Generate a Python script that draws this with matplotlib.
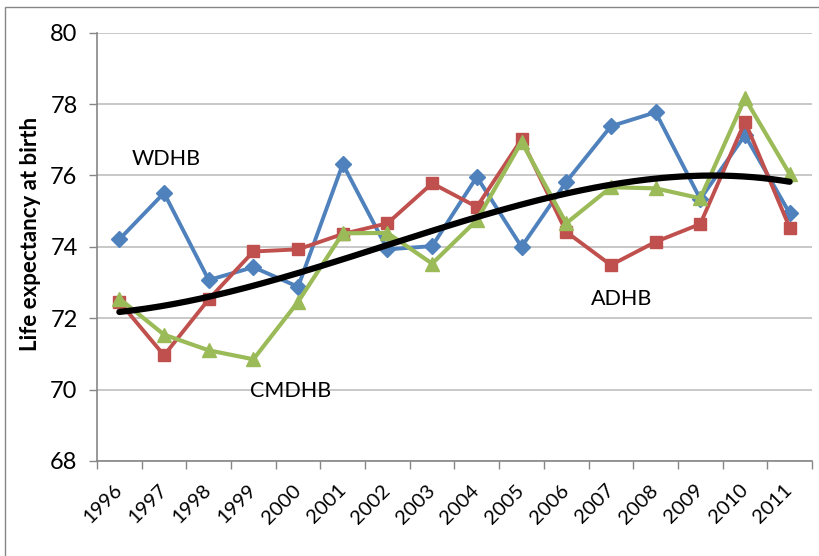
import numpy as np
import matplotlib.pyplot as plt
from matplotlib.patches import Rectangle

# data
years = [str(y) for y in range(1996, 2012)]
wdhb = [74.21, 75.51, 73.07, 73.43, 72.88, 76.32, 73.93, 74.02,
        75.96, 74.00, 75.82, 77.38, 77.77, 75.34, 77.13, 74.94]
adhb = [72.46, 70.96, 72.53, 73.87, 73.93, 74.36, 74.66, 75.78,
        75.12, 77.01, 74.42, 73.49, 74.14, 74.64, 77.51, 74.54]
cmdhb = [72.55, 71.54, 71.10, 70.85, 72.46, 74.38, 74.39, 73.53,
         74.75, 76.94, 74.66, 75.67, 75.64, 75.36, 78.16, 76.04]
# black trend line, read at each year
trend = [72.13, 72.38, 72.65, 72.94, 73.25, 73.62, 74.00, 74.45,
         74.85, 75.20, 75.50, 75.75, 75.90, 76.00, 75.98, 75.81]

plt.rcParams['font.family'] = ['Lato', 'DejaVu Sans']

fig = plt.figure(figsize=(8.2, 5.56), dpi=100)
ax = fig.add_axes([97 / 820, 1 - 461 / 556, 715 / 820, (461 - 32.7) / 556])

x = np.arange(len(years))
ax.plot(x, wdhb, color='#4F81BD', lw=2.8, marker='D', ms=8, zorder=3)
ax.plot(x, adhb, color='#C0504D', lw=2.8, marker='s', ms=8, zorder=3)
ax.plot(x, cmdhb, color='#9BBB59', lw=3.0, marker='^', ms=10, zorder=3)

# smooth polynomial trend drawn through the read values
coef = np.polyfit(x, trend, 3)
xs = np.linspace(0, len(years) - 1, 200)
ax.plot(xs, np.polyval(coef, xs), color='black', lw=4.5,
        solid_capstyle='round', zorder=4)

ax.text(1.05, 76.46, 'WDHB', fontsize=15.5, ha='center', va='center')
ax.text(3.84, 69.95, 'CMDHB', fontsize=15.5, ha='center', va='center')
ax.text(11.25, 72.53, 'ADHB', fontsize=15.5, ha='center', va='center')

ax.set_xlim(-0.5, len(years) - 0.5)
ax.set_ylim(68, 80)
ax.set_yticks(range(68, 81, 2))
ax.yaxis.grid(True, color='#BFBFBF', lw=1.2)
ax.set_axisbelow(True)
ax.set_xticks(x)
ax.set_xticklabels(years, rotation=45, ha='right', va='center',
                   rotation_mode='anchor')
ax.set_xticks(np.arange(-0.5, len(years)), minor=True)
ax.tick_params(axis='x', which='major', length=0, pad=19, labelsize=14.5)
ax.tick_params(axis='x', which='minor', length=6, color='#868686', width=1)
ax.tick_params(axis='y', length=6, color='#868686', width=1, labelsize=17, pad=8)
for s in ['top', 'right']:
    ax.spines[s].set_visible(False)
for s in ['left', 'bottom']:
    ax.spines[s].set_color('#868686')
    ax.spines[s].set_linewidth(1.2)

ax.set_ylabel('Life expectancy at birth', fontsize=16, fontweight='bold')
ax.yaxis.set_label_coords(-0.078, 0.53)

fig.patches.append(Rectangle((5 / 820, -0.01), 820 / 820, 1 - 7 / 556 + 0.01,
                             transform=fig.transFigure, fill=False,
                             edgecolor='#868686', lw=1))

fig.savefig('out.png', dpi=100)
